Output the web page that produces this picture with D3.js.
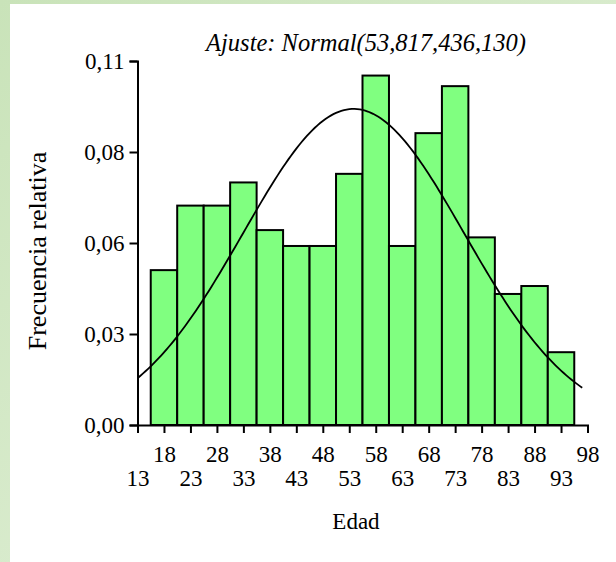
<!DOCTYPE html>
<html>
<head>
<meta charset="utf-8">
<script src="https://cdn.jsdelivr.net/npm/d3@7"></script>
<style>
  html, body { margin: 0; padding: 0; background: #fff; }
  svg { display: block; }
  text { font-family: "Liberation Serif", "Times New Roman", serif; fill: #000; }
</style>
</head>
<body>
<svg id="chart" width="616" height="562"></svg>
<script>
// Age classes (bin centres, width 5) and their relative frequencies
const ageCentres = [18, 23, 28, 33, 38, 43, 48, 53, 58, 63, 68, 73, 78, 83, 88, 93];
const relFreq = [0.0468, 0.0663, 0.0663, 0.0733, 0.0589, 0.0541, 0.0541, 0.0759,
                 0.1056, 0.0541, 0.0882, 0.1024, 0.0567, 0.0396, 0.0420, 0.0220];
const binWidth = 5;

// Fitted normal: mean and variance as printed in the title
const fitMean = 53.817;
const fitVariance = 436.130;

// Axis ticks and labels
const xTicks = [13, 18, 23, 28, 33, 38, 43, 48, 53, 58, 63, 68, 73, 78, 83, 88, 93, 98];
const yTicks = [0, 0.0275, 0.055, 0.0825, 0.11];
const yTickLabels = ["0,00", "0,03", "0,06", "0,08", "0,11"];

const svg = d3.select("#chart");
const W = 616, H = 562;

// Framed page background: soft green strips on the left and top edges
const defs = svg.append("defs");
const grad = defs.append("linearGradient").attr("id", "edge")
  .attr("x1", "0%").attr("y1", "0%").attr("x2", "100%").attr("y2", "100%");
grad.append("stop").attr("offset", "0%").attr("stop-color", "#c9e3b9");
grad.append("stop").attr("offset", "100%").attr("stop-color", "#e6f2de");
svg.append("rect").attr("width", W).attr("height", H).attr("fill", "url(#edge)");
svg.append("rect").attr("x", 10).attr("y", 4).attr("width", W - 10).attr("height", H - 4).attr("fill", "#fff");

const x = d3.scaleLinear().domain([13, 98]).range([137.5, 587.5]);
const y = d3.scaleLinear().domain([0, 0.11]).range([425, 61]);

// Histogram bars
svg.append("g").selectAll("rect")
  .data(ageCentres.map((c, i) => ({ c, v: relFreq[i] })))
  .join("rect")
  .attr("x", d => x(d.c - binWidth / 2))
  .attr("width", d => x(d.c + binWidth / 2) - x(d.c - binWidth / 2))
  .attr("y", d => y(d.v))
  .attr("height", d => y(0) - y(d.v))
  .attr("fill", "#80ff80")
  .attr("stroke", "#000")
  .attr("stroke-width", 2);

// Normal fit, scaled to the class width
const sd = Math.sqrt(fitVariance);
const fitPts = d3.range(13, 97.01, 0.5).map(a => {
  const z = (a - fitMean) / sd;
  return [a, binWidth * Math.exp(-0.5 * z * z) / (sd * Math.sqrt(2 * Math.PI))];
});
svg.append("path")
  .datum(fitPts)
  .attr("fill", "none")
  .attr("stroke", "#000")
  .attr("stroke-width", 1.8)
  .attr("d", d3.line().x(d => x(d[0])).y(d => y(d[1])));

// Y axis
const yAxis = svg.append("g")
  .attr("transform", `translate(${x(13)},0)`)
  .call(d3.axisLeft(y).tickValues(yTicks).tickSizeOuter(0).tickSize(8)
    .tickFormat((d, i) => yTickLabels[i]));
yAxis.selectAll("path, line").attr("stroke", "#000").attr("stroke-width", 2);
yAxis.selectAll("text")
  .attr("font-size", 23)
  .attr("x", -13).attr("dy", "0.34em");

// X axis, labels staggered over two rows
const xAxis = svg.append("g")
  .attr("transform", `translate(0,${y(0)})`)
  .call(d3.axisBottom(x).tickValues(xTicks).tickSizeOuter(0).tickSize(8).tickFormat(d => d));
xAxis.selectAll("path, line").attr("stroke", "#000").attr("stroke-width", 2);
xAxis.selectAll("text")
  .attr("font-size", 23)
  .attr("dy", 0)
  .attr("y", (d, i) => (i % 2 === 1 ? 37 : 61));

// Titles
svg.append("text")
  .attr("x", 366).attr("y", 51)
  .attr("text-anchor", "middle")
  .attr("font-size", 24.5).attr("font-style", "italic")
  .text("Ajuste: Normal(53,817,436,130)");

svg.append("text")
  .attr("x", 356).attr("y", 529)
  .attr("text-anchor", "middle")
  .attr("font-size", 23)
  .text("Edad");

svg.append("text")
  .attr("transform", "translate(46,251) rotate(-90)")
  .attr("text-anchor", "middle")
  .attr("font-size", 26)
  .text("Frecuencia relativa");
</script>
</body>
</html>
